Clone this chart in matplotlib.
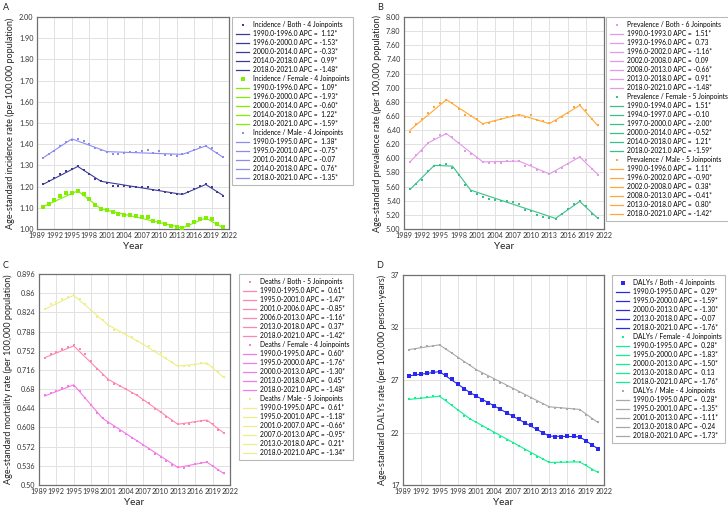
import numpy as np
import matplotlib.pyplot as plt
from matplotlib.lines import Line2D

plt.rcParams['font.family'] = ['Lato', 'DejaVu Sans']

years = np.arange(1990, 2022)
xticks = [1989, 1992, 1995, 1998, 2001, 2004, 2007, 2010, 2013, 2016, 2019, 2022]

# ---- A: incidence ----
inc_both = [1.21, 1.225, 1.24, 1.26, 1.275, 1.285, 1.295, 1.28, 1.26, 1.235, 1.225, 1.215,
            1.205, 1.203, 1.203, 1.2, 1.2, 1.2, 1.2, 1.185, 1.185, 1.175, 1.168, 1.163,
            1.163, 1.175, 1.19, 1.205, 1.21, 1.198, 1.175, 1.158]
inc_female = [1.105, 1.12, 1.135, 1.155, 1.168, 1.172, 1.18, 1.165, 1.14, 1.115, 1.095, 1.088,
              1.078, 1.073, 1.068, 1.065, 1.062, 1.058, 1.055, 1.038, 1.035, 1.022, 1.015, 1.008,
              1.005, 1.02, 1.035, 1.045, 1.052, 1.045, 1.022, 1.008]
inc_male = [1.334, 1.355, 1.37, 1.39, 1.41, 1.42, 1.425, 1.415, 1.40, 1.38, 1.375, 1.365,
            1.352, 1.355, 1.36, 1.362, 1.365, 1.368, 1.372, 1.36, 1.37, 1.35, 1.348, 1.342,
            1.352, 1.36, 1.375, 1.385, 1.39, 1.38, 1.36, 1.34]
inc_both_jp = [1990, 1996, 2000, 2014, 2018, 2021]
inc_both_fit = [1.21, 1.295, 1.225, 1.163, 1.21, 1.158]
inc_both_apc = ["1.12*", "-1.53*", "-0.33*", "0.99*", "-1.48*"]
inc_female_jp = [1990, 1996, 2000, 2014, 2018, 2021]
inc_female_fit = [1.105, 1.18, 1.095, 1.005, 1.052, 1.005]
inc_female_apc = ["1.09*", "-1.93*", "-0.60*", "1.22*", "-1.59*"]
inc_male_jp = [1990, 1995, 2001, 2014, 2018, 2021]
inc_male_fit = [1.335, 1.425, 1.365, 1.352, 1.392, 1.338]
inc_male_apc = ["1.38*", "-0.75*", "-0.07", "0.76*", "-1.35*"]

# ---- B: prevalence ----
prev_both = [5.95, 6.05, 6.11, 6.22, 6.28, 6.33, 6.35, 6.30, 6.22, 6.10, 6.06, 6.01,
             5.95, 5.93, 5.94, 5.94, 5.96, 5.96, 5.96, 5.89, 5.90, 5.84, 5.81, 5.78,
             5.80, 5.86, 5.92, 6.00, 6.02, 5.97, 5.85, 5.77]
prev_female = [5.56, 5.64, 5.70, 5.82, 5.89, 5.90, 5.92, 5.87, 5.77, 5.62, 5.54, 5.50,
               5.45, 5.42, 5.41, 5.40, 5.40, 5.38, 5.36, 5.27, 5.26, 5.20, 5.17, 5.16,
               5.14, 5.21, 5.28, 5.35, 5.39, 5.33, 5.21, 5.15]
prev_male = [6.37, 6.48, 6.55, 6.64, 6.72, 6.78, 6.83, 6.78, 6.70, 6.62, 6.60, 6.55,
             6.49, 6.50, 6.53, 6.55, 6.58, 6.60, 6.62, 6.58, 6.62, 6.54, 6.53, 6.50,
             6.53, 6.58, 6.64, 6.72, 6.75, 6.69, 6.56, 6.47]
prev_both_jp = [1990, 1993, 1996, 2002, 2008, 2013, 2018, 2021]
prev_both_fit = [5.95, 6.22, 6.35, 5.95, 5.96, 5.78, 6.02, 5.77]
prev_both_apc = ["1.51*", "0.73", "-1.16*", "0.09", "-0.66*", "0.91*", "-1.48*"]
prev_female_jp = [1990, 1994, 1997, 2000, 2014, 2018, 2021]
prev_female_fit = [5.56, 5.90, 5.89, 5.55, 5.15, 5.39, 5.15]
prev_female_apc = ["1.51*", "-0.10", "-2.00*", "-0.52*", "1.21*", "-1.59*"]
prev_male_jp = [1990, 1996, 2002, 2008, 2013, 2018, 2021]
prev_male_fit = [6.40, 6.83, 6.49, 6.62, 6.49, 6.75, 6.46]
prev_male_apc = ["1.11*", "-0.90*", "0.38*", "-0.41*", "0.80*", "-1.42*"]

# ---- C: deaths ----
death_both = [0.739, 0.745, 0.749, 0.755, 0.759, 0.762, 0.755, 0.745, 0.732, 0.718, 0.707, 0.698,
              0.690, 0.686, 0.680, 0.673, 0.668, 0.660, 0.654, 0.643, 0.637, 0.627, 0.620, 0.614,
              0.614, 0.615, 0.618, 0.621, 0.621, 0.615, 0.604, 0.597]
death_female = [0.668, 0.672, 0.676, 0.682, 0.686, 0.686, 0.676, 0.664, 0.650, 0.636, 0.625, 0.617,
                0.609, 0.602, 0.595, 0.588, 0.582, 0.575, 0.568, 0.558, 0.553, 0.545, 0.538, 0.533,
                0.532, 0.535, 0.539, 0.542, 0.543, 0.536, 0.528, 0.522]
death_male = [0.830, 0.839, 0.843, 0.849, 0.853, 0.856, 0.849, 0.840, 0.828, 0.815, 0.810, 0.800,
              0.790, 0.788, 0.783, 0.777, 0.770, 0.765, 0.760, 0.752, 0.748, 0.738, 0.730, 0.723,
              0.724, 0.724, 0.726, 0.729, 0.728, 0.722, 0.712, 0.702]
death_both_jp = [1990, 1995, 2001, 2006, 2013, 2018, 2021]
death_both_fit = [0.739, 0.761, 0.698, 0.668, 0.614, 0.622, 0.597]
death_both_apc = ["0.61*", "-1.47*", "-0.85*", "-1.16*", "0.37*", "-1.42*"]
death_female_jp = [1990, 1995, 2000, 2013, 2018, 2021]
death_female_fit = [0.667, 0.688, 0.625, 0.533, 0.543, 0.521]
death_female_apc = ["0.60*", "-1.76*", "-1.30*", "0.45*", "-1.48*"]
death_male_jp = [1990, 1995, 2001, 2007, 2013, 2018, 2021]
death_male_fit = [0.830, 0.856, 0.800, 0.764, 0.723, 0.729, 0.701]
death_male_apc = ["0.61*", "-1.18*", "-0.66*", "-0.95*", "0.21*", "-1.34*"]

# ---- D: DALYs ----
daly_both = [27.4, 27.55, 27.6, 27.7, 27.75, 27.75, 27.5, 27.05, 26.6, 26.1, 25.8, 25.5,
             25.1, 24.8, 24.5, 24.2, 23.9, 23.6, 23.3, 22.9, 22.7, 22.3, 22.0, 21.65,
             21.6, 21.6, 21.65, 21.7, 21.55, 21.2, 20.8, 20.45]
daly_female = [25.15, 25.25, 25.3, 25.4, 25.45, 25.45, 25.1, 24.6, 24.1, 23.6, 23.3, 23.0,
               22.6, 22.3, 22.0, 21.6, 21.3, 21.0, 20.7, 20.3, 20.0, 19.7, 19.45, 19.2,
               19.1, 19.15, 19.2, 19.25, 19.2, 18.9, 18.45, 18.2]
daly_male = [29.9, 30.0, 30.1, 30.2, 30.25, 30.35, 30.0, 29.6, 29.1, 28.7, 28.4, 28.0,
             27.6, 27.3, 27.0, 26.7, 26.4, 26.1, 25.9, 25.5, 25.3, 24.9, 24.7, 24.45,
             24.35, 24.3, 24.25, 24.2, 24.1, 23.7, 23.3, 23.0]
daly_both_jp = [1990, 1995, 2000, 2013, 2018, 2021]
daly_both_fit = [27.4, 27.8, 25.8, 21.65, 21.6, 20.45]
daly_both_apc = ["0.29*", "-1.59*", "-1.30*", "-0.07", "-1.76*"]
daly_female_jp = [1990, 1995, 2000, 2013, 2018, 2021]
daly_female_fit = [25.15, 25.45, 23.3, 19.15, 19.2, 18.2]
daly_female_apc = ["0.28*", "-1.83*", "-1.50*", "0.13", "-1.76*"]
daly_male_jp = [1990, 1995, 2001, 2013, 2018, 2021]
daly_male_fit = [29.9, 30.35, 28.0, 24.45, 24.2, 22.95]
daly_male_apc = ["0.28*", "-1.35*", "-1.11*", "-0.24", "-1.73*"]

W, H = 728, 512
fig = plt.figure(figsize=(W / 100, H / 100), dpi=100)


def fr(x0, y0, x1, y1):
    # pixel box -> figure fraction rect
    return [x0 / W, 1 - y1 / H, (x1 - x0) / W, (y1 - y0) / H]


def apc_label(a, b, apc):
    pad = " " if apc.startswith("-") else "  "
    return f"{a:.1f}-{b:.1f} APC ={pad}{apc}"


def draw_panel(rect, leg_xy, letter, letter_xy, measure, ylabel, ylim, yticks, yticklabels, series):
    ax = fig.add_axes(fr(*rect))
    handles = []
    for sex, color, msize, pts, jp, fit, apcs in series:
        ax.plot(jp, fit, color=color, lw=0.8, zorder=2)
        ax.plot(years, pts, ls="none", marker="s", ms=msize, color=color, mew=0, zorder=3)
        handles.append(Line2D([], [], ls="none", marker="s", ms=msize, color=color, mew=0,
                              label=f"{measure} / {sex} - {len(jp) - 2} Joinpoints"))
        for i, apc in enumerate(apcs):
            handles.append(Line2D([], [], color=color, lw=0.9,
                                  label=apc_label(jp[i], jp[i + 1], apc)))
    ax.set_xlim(1989, 2022)
    ax.set_ylim(*ylim)
    ax.set_xticks(xticks)
    ax.set_yticks(yticks)
    ax.set_yticklabels(yticklabels)
    ax.tick_params(length=0, labelsize=5.2, pad=2.5, colors="#333333")
    ax.grid(True, color="#e2e2e2", lw=0.7, zorder=0)
    for s in ax.spines.values():
        s.set_color("#707070")
        s.set_linewidth(0.9)
    ax.set_xlabel("Year", fontsize=7.2, color="#222222", labelpad=2)
    ax.set_ylabel(ylabel, fontsize=6.5, color="#222222", labelpad=3)
    leg = fig.legend(handles=handles, loc="upper left",
                     bbox_to_anchor=(leg_xy[0] / W, 1 - leg_xy[1] / H),
                     fontsize=4.8, frameon=True, fancybox=False, edgecolor="#a8a8a8",
                     labelspacing=0.3, handlelength=2.0, handletextpad=0.5,
                     borderpad=0.6, borderaxespad=0, markerscale=1.0)
    leg.get_frame().set_linewidth(0.8)
    fig.text(letter_xy[0] / W, 1 - letter_xy[1] / H, letter, fontsize=6.5,
             ha="left", va="center", color="#222222")
    return ax


draw_panel((37, 17, 229, 229), (232, 17), "A", (3, 8), "Incidence",
           "Age-standard incidence rate (per 100,000 population)",
           (1.0, 2.0), np.linspace(1.0, 2.0, 11),
           [f"{v:.2f}" for v in np.linspace(1.0, 2.0, 11)],
           [("Both", "#3c3c96", 1.9, inc_both, inc_both_jp, inc_both_fit, inc_both_apc),
            ("Female", "#80f000", 2.3, inc_female, inc_female_jp, inc_female_fit, inc_female_apc),
            ("Male", "#8c8cf0", 1.7, inc_male, inc_male_jp, inc_male_fit, inc_male_apc)])

draw_panel((404, 17, 604, 229), (606, 17), "B", (377, 8), "Prevalence",
           "Age-standard prevalence rate (per 100,000 population)",
           (5.0, 8.0), np.linspace(5.0, 8.0, 16),
           [f"{v:.2f}" for v in np.linspace(5.0, 8.0, 16)],
           [("Both", "#e09ae6", 2.0, prev_both, prev_both_jp, prev_both_fit, prev_both_apc),
            ("Female", "#38c088", 2.0, prev_female, prev_female_jp, prev_female_fit, prev_female_apc),
            ("Male", "#ffa838", 2.0, prev_male, prev_male_jp, prev_male_fit, prev_male_apc)])

c_ticks = [0.5, 0.536, 0.572, 0.608, 0.644, 0.68, 0.716, 0.752, 0.788, 0.824, 0.86, 0.896]
c_labels = ["0.50", "0.536", "0.572", "0.608", "0.644", "0.68", "0.716", "0.752",
            "0.788", "0.824", "0.86", "0.896"]
draw_panel((39, 274, 230, 485), (239, 274), "C", (3, 266), "Deaths",
           "Age-standard mortality rate (per 100,000 population)",
           (0.5, 0.896), c_ticks, c_labels,
           [("Both", "#ff86b4", 2.0, death_both, death_both_jp, death_both_fit, death_both_apc),
            ("Female", "#f47ae6", 2.0, death_female, death_female_jp, death_female_fit, death_female_apc),
            ("Male", "#eeee88", 2.0, death_male, death_male_jp, death_male_fit, death_male_apc)])

draw_panel((403, 275, 604, 485), (612, 275), "D", (376, 265), "DALYs",
           "Age-standard DALYs rate (per 100,000 person-years)",
           (17, 37), [17, 22, 27, 32, 37], ["17", "22", "27", "32", "37"],
           [("Both", "#2828f0", 2.3, daly_both, daly_both_jp, daly_both_fit, daly_both_apc),
            ("Female", "#10f090", 2.0, daly_female, daly_female_jp, daly_female_fit, daly_female_apc),
            ("Male", "#a8a8a8", 1.5, daly_male, daly_male_jp, daly_male_fit, daly_male_apc)])

fig.savefig("out.png", dpi=100)
